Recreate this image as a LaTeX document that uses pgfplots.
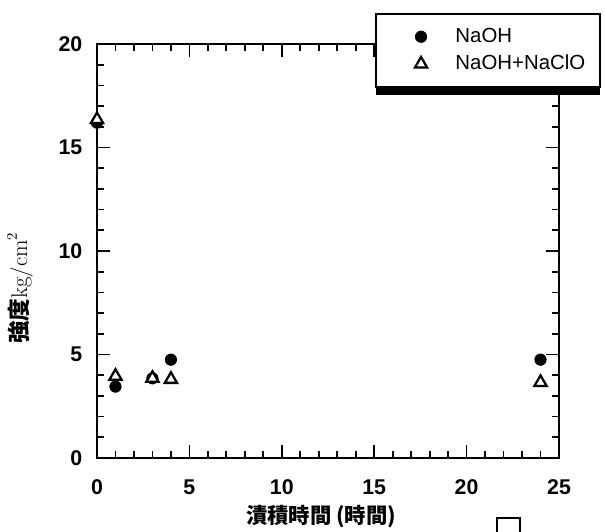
\documentclass[border=0pt]{standalone}
\usepackage[no-math]{fontspec}
\setmainfont{Liberation Sans}
\newfontfamily\cjk{Noto Sans CJK JP}
\newfontfamily\lmr{Latin Modern Roman}
\usepackage{pgfplots}
\pgfplotsset{compat=1.18}
\usetikzlibrary{shadows}
\begin{document}
\begin{tikzpicture}
\useasboundingbox (-72.75pt,-54.75pt) rectangle (381pt,343.5pt);
\begin{axis}[
  scale only axis,
  width=346.5pt, height=310.5pt,
  xmin=0, xmax=25, ymin=0, ymax=20,
  xtick={0,5,...,25}, ytick={0,5,...,20},
  minor x tick num=4, minor y tick num=4,
  tick align=inside,
  major tick length=9.5pt, minor tick length=5.5pt,
  axis line style={line width=1.6pt},
  every tick/.style={line width=1.3pt, black},
  /pgf/number format/assume math mode=true,
  tick label style={font=\fontsize{16}{19}\selectfont\bfseries},
  xticklabel style={yshift=-12.5pt},
  yticklabel style={xshift=-7.5pt},
  clip=false,
  xlabel={\cjk\fontsize{16}{19}\selectfont\bfseries 漬積時間 (時間)},
  xlabel style={at={(axis description cs:0.485,-0.1425)}, anchor=center},
  ylabel={{\cjk\bfseries 強度}{\lmr kg/cm\raisebox{0.45em}{\fontsize{11}{13}\selectfont 2}}},
  ylabel style={at={(axis description cs:-0.1667,0.41)}, anchor=center, font=\fontsize{17}{20}\selectfont},
  legend style={
    at={(axis description cs:1.0909,1.0749)}, anchor=north east,
    draw=black, line width=1.6pt, fill=white,
    inner xsep=9pt, inner ysep=8pt,
    row sep=2.5pt,
    font=\fontsize{15.3}{18}\selectfont,
    nodes={text height=11pt, text depth=3pt},
    drop shadow={shadow xshift=0pt, shadow yshift=-6pt, fill=black, opacity=1},
  },
  legend cell align=left,
  legend image code/.code={
    \path (-24pt,0pt) (23pt,0pt);
    \draw[#1, line width=1.4pt] plot coordinates {(0pt,0pt)};
  },
]
\addplot[only marks, mark=*, mark size=4.3pt, black, mark options={line width=0.5pt}]
  coordinates {(0,16.2) (1,3.45) (3,3.85) (4,4.75) (24,4.75)};
\addlegendentry{NaOH}
\addplot[only marks, mark=triangle*, mark size=5.3pt, black, mark options={fill=white, line width=1.7pt}]
  coordinates {(0,16.35) (1,3.95) (3,3.85) (4,3.8) (24,3.65)};
\addlegendentry{NaOH+NaClO}
\end{axis}
\draw[line width=1.6pt] (300pt,-45pt) rectangle (317pt,-60pt);
\end{tikzpicture}
\end{document}
